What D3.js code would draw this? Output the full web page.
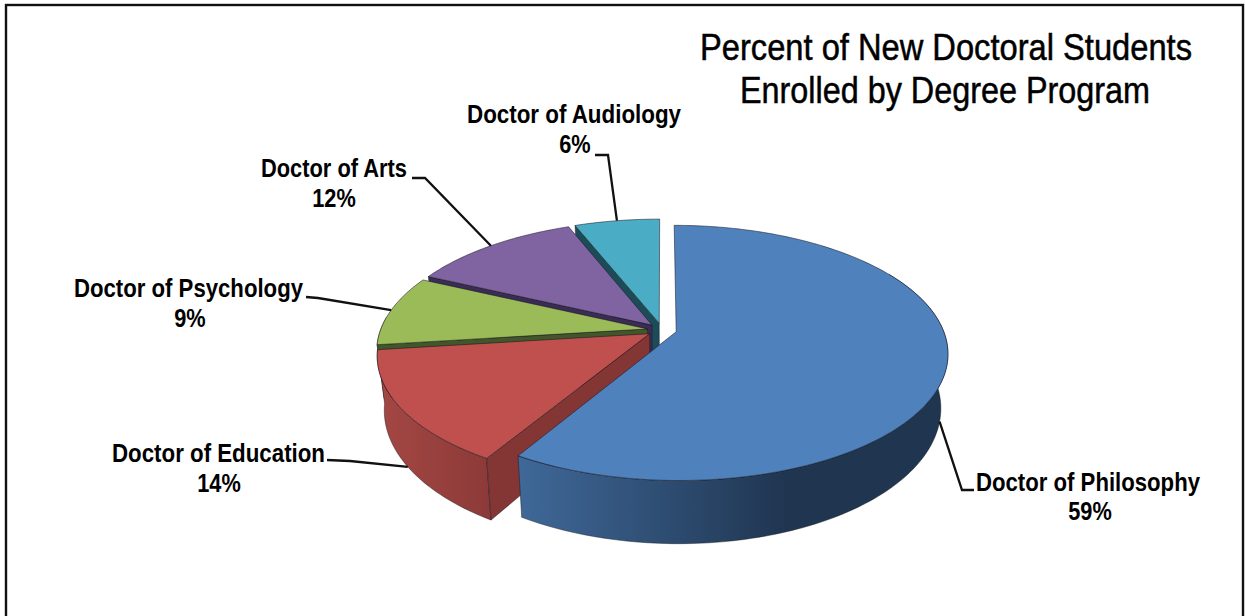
<!DOCTYPE html>
<html>
<head>
<meta charset="utf-8">
<script src="https://cdn.jsdelivr.net/npm/d3@7"></script>
<style>
html,body{margin:0;padding:0;background:#fff;overflow:hidden}
svg{display:block}
text{font-family:"Liberation Sans",Arial,sans-serif;fill:#000}
.lab{font-weight:bold;font-size:25px}
.ttl{font-size:36px;stroke:#000;stroke-width:0.5px}
</style>
</head>
<body>
<svg id="c" width="1245" height="616"></svg>
<script>
// ---- data ----
const categories = ["Doctor of Philosophy","Doctor of Education","Doctor of Psychology","Doctor of Arts","Doctor of Audiology"];
const values = [58.6,14.4,9,12,6];
const titleLines = ["Percent of New Doctoral Students","Enrolled by Degree Program"];
// ---- styles ----
const topColors  = ["#4F81BD","#C0504D","#9BBB59","#8064A2","#4BACC6"];
const cutColors  = ["#2a4566","#843634","#43562a","#3b2c55","#1d4c59"];
const wallStart  = ["#3f6898","#a44744","#86a34c","#6b5488","#3c8ea5"];
const wallEnd    = ["#1f3550","#8c3a38","#6f8a3c","#57436f","#2f7488"];
// ---- layout of labels (name box, pct centre, baselines, leader elbow, which rim) ----
const labelLayout = [
 {x0:976,x1:1200,b1:491,b2:520,pc:1090,from:[974,490],elbow:[962,490],rim:"bottom"},
 {x0:112,x1:325,b1:462,b2:492,pc:219,from:[327,460],elbow:[350,461],rim:"bottom"},
 {x0:74,x1:303,b1:297,b2:327,pc:190,from:[306,297],elbow:[318,298],rim:"top"},
 {x0:261,x1:407,b1:177,b2:207,pc:334,from:[412,178],elbow:[425,178],rim:"top"},
 {x0:467,x1:681,b1:123,b2:153,pc:575,from:[595,155],elbow:[608,155],rim:"top"}
];
// ---- projection parameters ----
const cx=662, cy=330, bx=267, ay=123.5, k=0.165, explode=0.055, depth=52.6, shrink=0.975;
const wallFrom=Math.PI/3, wallTo=Math.PI*1.53, pctSqueeze=0.87;

const svg=d3.select("#c");
const defs=svg.append("defs");

const arcs=d3.pie().sort(null).startAngle(0).endAngle(2*Math.PI)(values);

function proj(d,theta,r,bottom){
  const mid=(d.startAngle+d.endAngle)/2;
  const u=r*Math.sin(theta)+explode*Math.sin(mid);
  const V=-(Math.cos(theta)*r)-explode*Math.cos(mid);
  const w=1-k*V;
  let x=bx*u/w, y=ay*V/w;
  if(bottom){x*=shrink; y+=depth/w;}
  return [cx+x,cy+y];
}
const line=d3.line();
function rim(d,bottom,a0,a1){
  const s=a0===undefined?d.startAngle:a0, e=a1===undefined?d.endAngle:a1;
  const n=Math.max(8,Math.ceil((e-s)/0.02));
  return d3.range(n+1).map(i=>proj(d,s+(e-s)*i/n,1,bottom));
}

// frame
svg.append("rect").attr("x",6).attr("y",5).attr("width",1237).attr("height",640)
  .attr("fill","#fff").attr("stroke","#111").attr("stroke-width",2.4);

// painter order: back to front
const order=[4,3,2,1,0];
const edge="rgba(20,20,30,0.75)";
const g=svg.append("g");

order.forEach(i=>{
  const d=arcs[i];
  const top=rim(d,false);
  const apex=proj(d,0,0,false), apexB=proj(d,0,0,true);
  const grad=defs.append("linearGradient").attr("id","w"+i)
    .attr("gradientUnits","userSpaceOnUse");
  if(i===0){grad.attr("x1",520).attr("x2",790).attr("y1",0).attr("y2",0);}
  else {grad.attr("x1",380).attr("x2",490).attr("y1",0).attr("y2",0);}
  grad.append("stop").attr("offset",0).attr("stop-color",wallStart[i]);
  grad.append("stop").attr("offset",1).attr("stop-color",wallEnd[i]);
  // outer wall, only over the part of the rim that faces the viewer
  const a0=Math.max(d.startAngle,wallFrom), a1=Math.min(d.endAngle,wallTo);
  if(a1>a0){
    const t=rim(d,false,a0,a1), b=rim(d,true,a0,a1);
    g.append("path").attr("d",line(t.concat(b.slice().reverse()))+"Z")
      .attr("fill","url(#w"+i+")").attr("stroke",edge).attr("stroke-width",0.6);
  }
  // cut face at the slice's first edge (faces the viewer for every slice but the first)
  if(i>0){
    const p=proj(d,d.startAngle,1,false), q=proj(d,d.startAngle,1,true);
    g.append("path").attr("d",line([apex,p,q,apexB])+"Z")
      .attr("fill",cutColors[i]).attr("stroke",edge).attr("stroke-width",0.6);
  }
  // top face
  g.append("path").attr("d",line([apex].concat(top))+"Z")
    .attr("fill",topColors[i]).attr("stroke",edge).attr("stroke-width",0.7);
});

// leaders and labels
const ll=svg.append("g");
arcs.forEach((d,i)=>{
  const L=labelLayout[i];
  const mid=(d.startAngle+d.endAngle)/2;
  const end=proj(d,mid,1,L.rim==="bottom");
  ll.append("path").attr("d",line([L.from,L.elbow,end])).attr("fill","none")
    .attr("stroke","#111").attr("stroke-width",2.3);
  svg.append("text").attr("class","lab").attr("x",L.x0).attr("y",L.b1)
    .attr("textLength",L.x1-L.x0).attr("lengthAdjust","spacingAndGlyphs").text(categories[i]);
  const pct=svg.append("text").attr("class","lab").attr("x",L.pc).attr("y",L.b2)
    .attr("text-anchor","middle").text(d3.format(".0f")(values[i])+"%");
  pct.attr("textLength",pct.node().getComputedTextLength()*pctSqueeze)
    .attr("lengthAdjust","spacingAndGlyphs");
});

// title
const titlePos=[{x0:700,x1:1192,b:60},{x0:740,x1:1150,b:103}];
titleLines.forEach((t,i)=>{
  svg.append("text").attr("class","ttl").attr("x",titlePos[i].x0).attr("y",titlePos[i].b)
    .attr("textLength",titlePos[i].x1-titlePos[i].x0).attr("lengthAdjust","spacingAndGlyphs").text(t);
});
</script>
</body>
</html>
